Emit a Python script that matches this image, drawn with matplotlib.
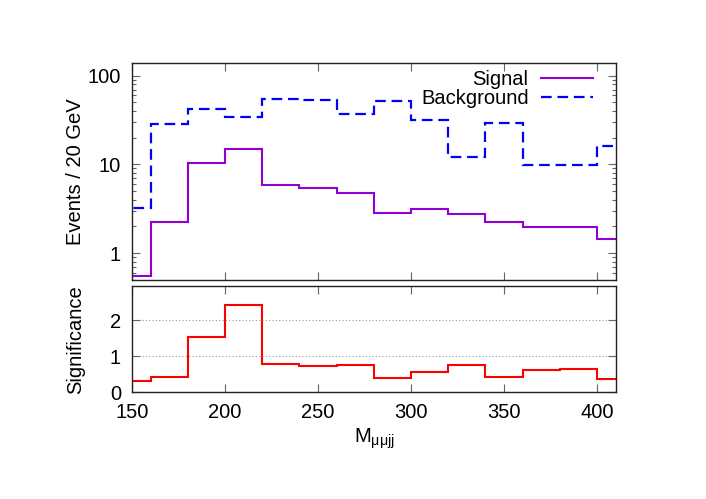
import numpy as np
import matplotlib
matplotlib.use("Agg")
import matplotlib.pyplot as plt

plt.rcParams["font.family"] = ["Liberation Sans", "DejaVu Sans"]
plt.rcParams["font.size"] = 14.5

# bin edges (GeV), 20 GeV bins
edges = [140, 160, 180, 200, 220, 240, 260, 280, 300, 320, 340, 360, 380, 400, 420]
signal = [0.55, 2.25, 10.4, 15.1, 5.9, 5.4, 4.7, 2.85, 3.15, 2.73, 2.25, 1.97, 1.99, 1.45]
background = [3.25, 28.3, 42.0, 34.4, 55.0, 52.7, 36.6, 52.2, 31.6, 12.0, 29.5, 9.75, 9.75, 16.2]
significance = [0.30, 0.42, 1.55, 2.42, 0.77, 0.73, 0.76, 0.38, 0.55, 0.76, 0.41, 0.62, 0.63, 0.35]

fig = plt.figure(figsize=(7.06, 4.99), dpi=100)
ax1 = fig.add_axes([0.187, 0.4395, 0.685, 0.4345])
ax2 = fig.add_axes([0.187, 0.2144, 0.685, 0.2115])

ax1.stairs(signal, edges, color="#9400d3", lw=1.5, label="Signal")
ax1.stairs(background, edges, color="#0000ff", lw=1.6, linestyle=(0, (4.8, 2.6)),
           label="Background")
ax1.set_yscale("log")
ax1.set_xlim(150, 410)
ax1.set_ylim(0.5, 140)
ax1.set_yticks([1, 10, 100])
ax1.set_yticklabels(["1", "10", "100"])
ax1.set_xticks([150, 200, 250, 300, 350, 400])
ax1.tick_params(labelbottom=False)
ax1.set_ylabel("Events / 20 GeV")
ax1.legend(loc="upper right", markerfirst=False, frameon=False, handlelength=2.6,
           borderaxespad=0.0, labelspacing=0.0, handletextpad=0.6,
           bbox_to_anchor=(0.97, 1.005))

ax2.stairs(significance, edges, color="#ff0000", lw=1.5)
ax2.set_xlim(150, 410)
ax2.set_ylim(0, 2.95)
ax2.set_yticks([0, 1, 2])
ax2.set_xticks([150, 200, 250, 300, 350, 400])
ax2.yaxis.grid(True, linestyle=(0, (1, 2)), color="#999999", lw=0.8)
ax2.set_ylabel("Significance")
ax2.set_xlabel(r"M$_{\mathregular{\mu\mu jj}}$", labelpad=3)

for ax in (ax1, ax2):
    ax.tick_params(which="both", direction="in", top=True, right=True,
                   color="#666666", width=0.8, pad=8)
    ax.tick_params(which="major", length=6)
    ax.tick_params(which="minor", length=3)
    for s in ax.spines.values():
        s.set_color("#222222")
        s.set_linewidth(1.0)
    ax.yaxis.set_label_coords(-0.097, 0.5)

fig.savefig("out.png", dpi=100)
